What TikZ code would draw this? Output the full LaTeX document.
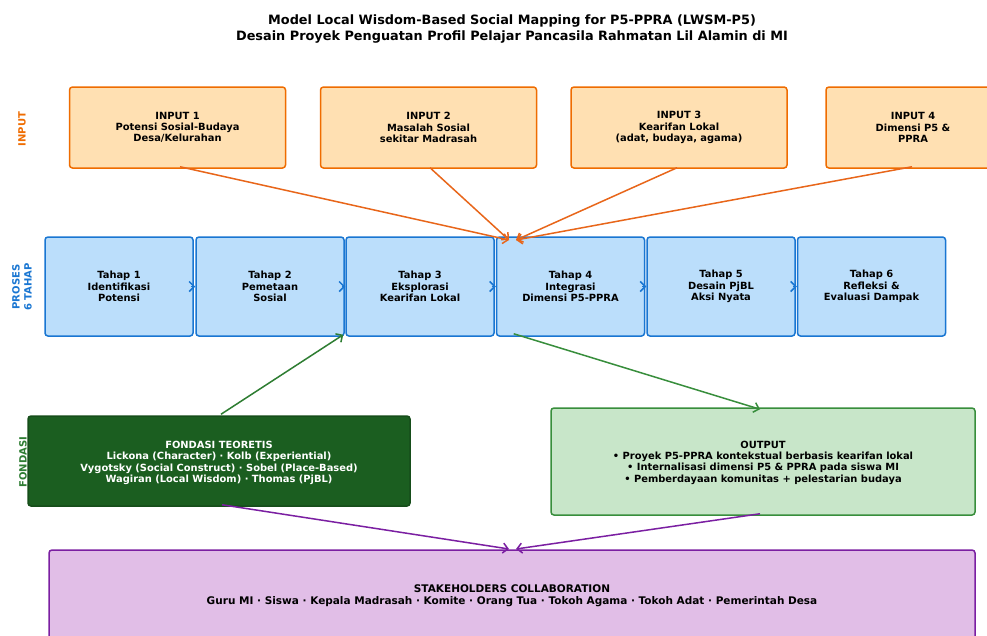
\documentclass[tikz,border=0pt]{standalone}
\usepackage{fontspec}
\setmainfont{DejaVu Sans}
\usetikzlibrary{arrows.meta,calc}
\definecolor{infill}{HTML}{FFE0B2}
\definecolor{inborder}{HTML}{EF6C00}
\definecolor{inarrow}{HTML}{E8661A}
\definecolor{prfill}{HTML}{BBDEFB}
\definecolor{prborder}{HTML}{1976D2}
\definecolor{fonfill}{HTML}{1B5E20}
\definecolor{fonborder}{HTML}{164D1A}
\definecolor{fonlabel}{HTML}{2E7D32}
\definecolor{outfill}{HTML}{C8E6C9}
\definecolor{outborder}{HTML}{388E3C}
\definecolor{shfill}{HTML}{E1BEE7}
\definecolor{shborder}{HTML}{7B1FA2}
\begin{document}
\begin{tikzpicture}[x=1pt,y=-1pt,
  box/.style={draw, rounded corners=3pt, line width=1.5pt, align=center,
    font=\bfseries\fontsize{9.9}{11.3}\selectfont, inner sep=0pt},
  inbox/.style={box, draw=inborder, fill=infill, minimum width=216pt, minimum height=81pt},
  prbox/.style={box, draw=prborder, fill=prfill, minimum width=148pt, minimum height=99pt},
  sidelabel/.style={rotate=90, align=center, font=\bfseries\fontsize{10}{12}\selectfont},
  arr/.style={line width=1.5pt, -{Straight Barb[length=5pt,width=10pt]}},
  chev/.style={line width=1.5pt, draw=prborder, -{Straight Barb[length=5pt,width=10pt]}}
]
\useasboundingbox[fill=white] (0,0) rectangle (987,635);

% title
\node[align=center, font=\bfseries\fontsize{12.85}{16}\selectfont] (title) at (512,29)
  {Model Local Wisdom-Based Social Mapping for P5-PPRA (LWSM-P5)\\
   Desain Proyek Penguatan Profil Pelajar Pancasila Rahmatan Lil Alamin di MI};

% side labels
\node[sidelabel, text=inborder] (lin) at (22,129) {INPUT};
\node[sidelabel, text=prborder] (lpr) at (22,287) {PROSES\\6 TAHAP};

% inputs
\node[inbox] (in1) at (177.5,127.5) {INPUT 1\\Potensi Sosial-Budaya\\Desa/Kelurahan};
\node[inbox] (in2) at (428.5,127.5) {INPUT 2\\Masalah Sosial\\sekitar Madrasah};
\node[inbox] (in3) at (679,127.5) {INPUT 3\\Kearifan Lokal\\(adat, budaya, agama)};
\node[inbox, minimum width=174pt] (in4) at (913,127.5) {INPUT 4\\Dimensi P5 \&\\PPRA};

% process
\node[prbox] (t1) at (119,286.5) {Tahap 1\\Identifikasi\\Potensi};
\node[prbox] (t2) at (270,286.5) {Tahap 2\\Pemetaan\\Sosial};
\node[prbox] (t3) at (420,286.5) {Tahap 3\\Eksplorasi\\Kearifan Lokal};
\node[prbox] (t4) at (570.5,286.5) {Tahap 4\\Integrasi\\Dimensi P5-PPRA};
\node[prbox] (t5) at (721,286.5) {Tahap 5\\Desain PjBL\\Aksi Nyata};
\node[prbox] (t6) at (871.5,286.5) {Tahap 6\\Refleksi \&\\Evaluasi Dampak};

\draw[chev] ([xshift=-3pt]t1.east) -- (t2.west);
\draw[chev] ([xshift=-3pt]t2.east) -- (t3.west);
\draw[chev] ([xshift=-3pt]t3.east) -- (t4.west);
\draw[chev] ([xshift=-3pt]t4.east) -- (t5.west);
\draw[chev] ([xshift=-3pt]t5.east) -- (t6.west);

% fondasi
\node[box, draw=fonborder, fill=fonfill, text=white, minimum width=382pt, minimum height=90pt] (fon) at (219,461)
  {\rule{0pt}{11.3pt}FONDASI TEORETIS\\Lickona (Character) · Kolb (Experiential)\\Vygotsky (Social Construct) · Sobel (Place-Based)\\Wagiran (Local Wisdom) · Thomas (PjBL)};
\node[sidelabel, text=fonlabel] (lfon) at (23,462) {FONDASI};

% output
\node[box, draw=outborder, fill=outfill, minimum width=424pt, minimum height=107pt] (out) at (763,461.5)
  {\rule{0pt}{9.3pt}OUTPUT\\• Proyek P5-PPRA kontekstual berbasis kearifan lokal\\• Internalisasi dimensi P5 \& PPRA pada siswa MI\\• Pemberdayaan komunitas + pelestarian budaya};

% stakeholders
\node[box, draw=shborder, fill=shfill, minimum width=926pt, minimum height=92pt,
  font=\bfseries\fontsize{10.5}{12}\selectfont] (sh) at (512,596)
  {STAKEHOLDERS COLLABORATION\\Guru MI · Siswa · Kepala Madrasah · Komite · Orang Tua · Tokoh Agama · Tokoh Adat · Pemerintah Desa};

% connector end points
\coordinate (inA) at (509,240);
\coordinate (inB) at (516,240);
\coordinate (sA) at (509,549);
\coordinate (sB) at (516,549);

% input arrows
\draw[arr, draw=inarrow] ([xshift=2.5pt,yshift=2pt]in1.south) -- (inA);
\draw[arr, draw=inarrow] ([xshift=1.5pt,yshift=1pt]in2.south) -- (inA);
\draw[arr, draw=inarrow] ([xshift=-2pt,yshift=1pt]in3.south) -- (inB);
\draw[arr, draw=inarrow] ([xshift=-1pt,yshift=2pt]in4.south) -- (inB);

% green arrows
\draw[arr, draw=fonlabel] ([xshift=2pt,yshift=1pt]fon.north) -- ([xshift=-2pt,yshift=2pt]t3.south west);
\draw[arr, draw=outborder] ($(t4.south west)!0.12!(t4.south east)+(0,-3)$) -- ([xshift=-3pt,yshift=-2pt]out.north);

% purple arrows
\draw[arr, draw=shborder] ([xshift=3pt,yshift=2pt]fon.south) -- (sA);
\draw[arr, draw=shborder] ([xshift=-3pt,yshift=2pt]out.south) -- (sB);
\end{tikzpicture}
\end{document}
